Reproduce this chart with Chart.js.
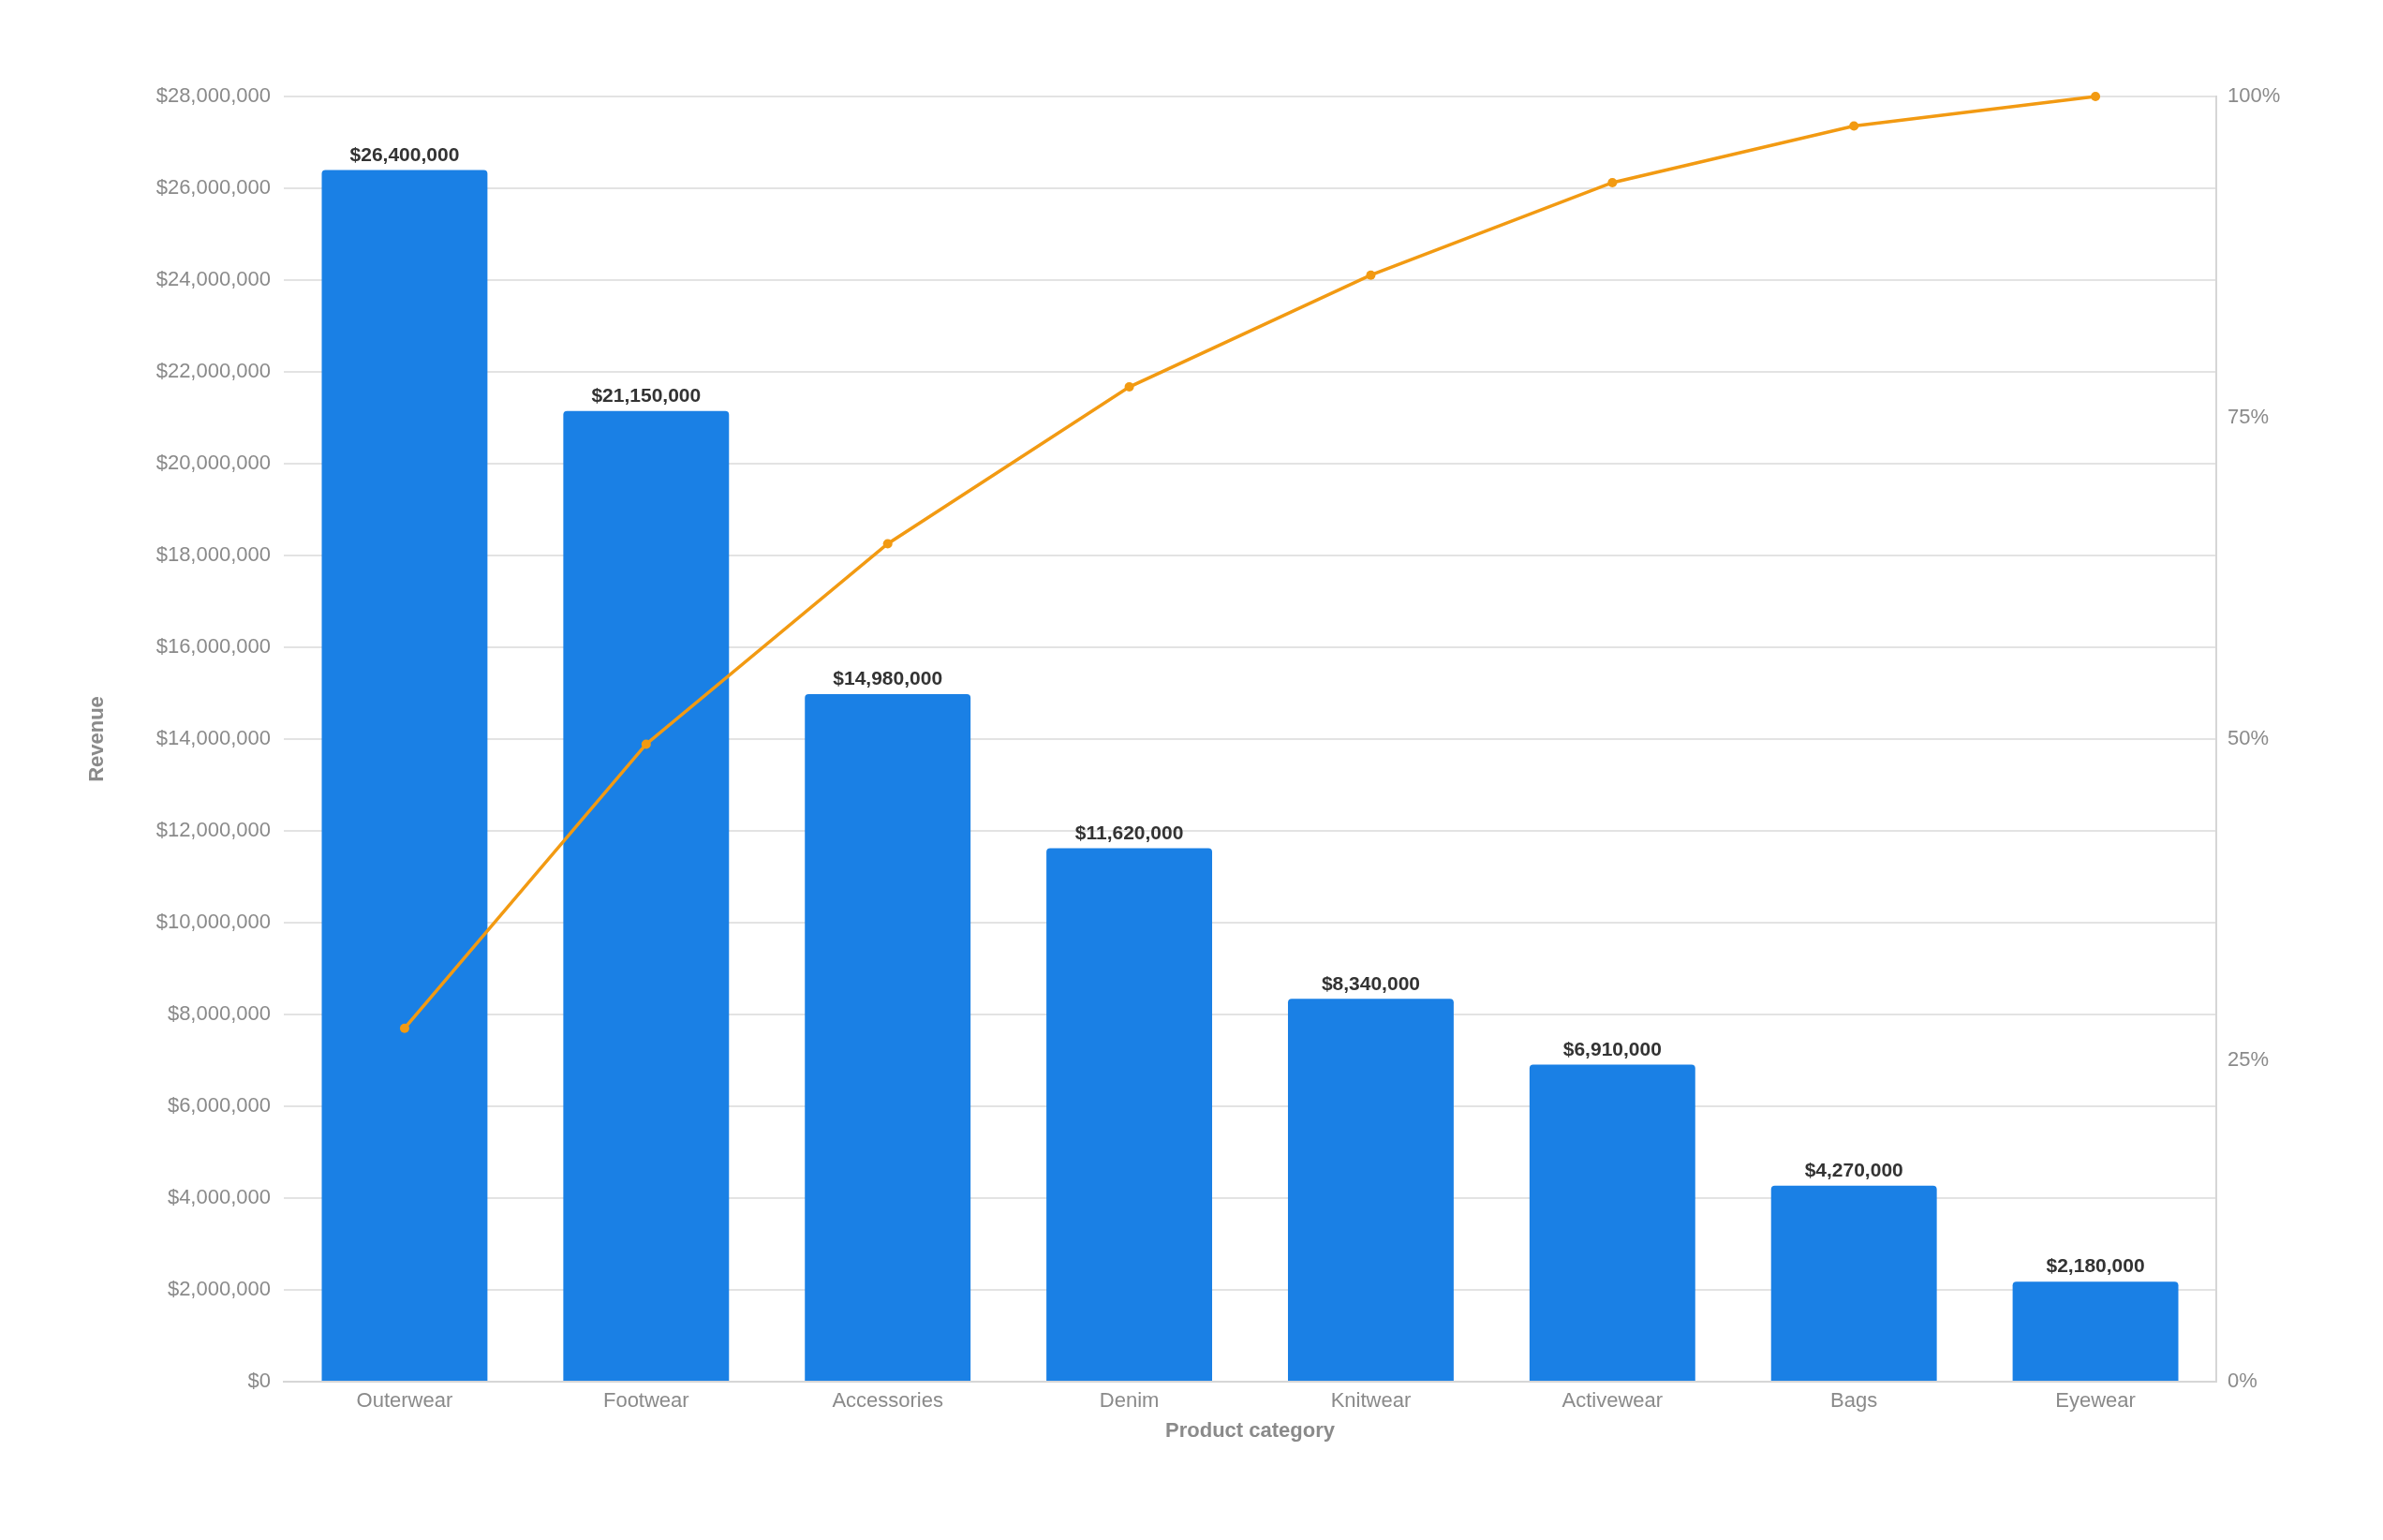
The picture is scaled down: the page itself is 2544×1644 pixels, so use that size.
<!DOCTYPE html>
<html>
<head>
<meta charset="utf-8">
<title>Revenue by product category</title>
<script src="https://cdn.jsdelivr.net/npm/chart.js@4.4.1/dist/chart.umd.min.js"></script>
<style>
    html, body { margin: 0; padding: 0; background: #ffffff; }
    #wrap { width: 2544px; height: 1644px; }
</style>
</head>
<body>
<div id="wrap"><canvas id="paretoChart" width="2544" height="1644"></canvas></div>
<script>
// Values
const categories = ['Outerwear', 'Footwear', 'Accessories', 'Denim', 'Knitwear', 'Activewear', 'Bags', 'Eyewear'];
const revenue = [26400000, 21150000, 14980000, 11620000, 8340000, 6910000, 4270000, 2180000];
const cumulativePct = [27.5, 49.6, 65.2, 77.4, 86.1, 93.3, 97.7, 100];
const revenueTicks = { min: 0, max: 28000000, step: 2000000 };
const pctTicks = { min: 0, max: 100, step: 25 };

const barColor = '#1a80e5';
const lineColor = '#f29a12';
const tickColor = '#8a8a8a';
const gridColor = '#e3e3e3';
const fontFamily = '"Liberation Sans", Arial, Helvetica, sans-serif';

function money(v) {
    return '$' + Number(v).toLocaleString('en-US');
}

// Draws the value above each bar (no datalabels plugin available offline)
const barLabels = {
    id: 'barLabels',
    afterDatasetsDraw(chart) {
        const ctx = chart.ctx;
        const meta = chart.getDatasetMeta(0);
        ctx.save();
        ctx.font = 'bold 21px ' + fontFamily;
        ctx.fillStyle = '#333333';
        ctx.textAlign = 'center';
        ctx.textBaseline = 'bottom';
        meta.data.forEach((bar, i) => {
            ctx.fillText(money(revenue[i]), bar.x, bar.y - 5);
        });
        ctx.restore();
    }
};

const ctx = document.getElementById('paretoChart').getContext('2d');
const chart = new Chart(ctx, {
    type: 'bar',
    data: {
        labels: categories,
        datasets: [
            {
                type: 'bar',
                label: 'Revenue',
                data: revenue,
                yAxisID: 'y',
                backgroundColor: barColor,
                borderRadius: 4,
                borderSkipped: 'bottom',
                categoryPercentage: 1.0,
                barPercentage: 0.686,
                order: 1
            },
            {
                type: 'line',
                label: 'Cumulative %',
                data: cumulativePct,
                yAxisID: 'y1',
                borderColor: lineColor,
                backgroundColor: lineColor,
                borderWidth: 3.5,
                pointRadius: 5,
                pointBackgroundColor: lineColor,
                pointBorderWidth: 0,
                tension: 0,
                fill: false,
                clip: false,
                order: 0
            }
        ]
    },
    options: {
        responsive: false,
        animation: false,
        devicePixelRatio: 1,
        layout: {
            padding: { left: 87, right: 78, top: 103, bottom: 99 }
        },
        plugins: {
            legend: { display: false },
            tooltip: { enabled: false }
        },
        scales: {
            x: {
                grid: { display: false, drawTicks: false },
                border: { display: true, color: '#d6d6d6', width: 2 },
                ticks: {
                    color: tickColor,
                    font: { family: fontFamily, size: 22 },
                    padding: 8,
                    maxRotation: 0
                },
                title: {
                    display: true,
                    text: 'Product category',
                    color: tickColor,
                    font: { family: fontFamily, size: 22, weight: 'bold' },
                    padding: { top: 4, bottom: 4 }
                },
                afterFit(scale) { scale.height = 70; }
            },
            y: {
                position: 'left',
                min: revenueTicks.min,
                max: revenueTicks.max,
                grid: { color: gridColor, lineWidth: 2, drawTicks: false },
                border: { display: false },
                ticks: {
                    stepSize: revenueTicks.step,
                    color: tickColor,
                    font: { family: fontFamily, size: 22 },
                    padding: 14,
                    callback: v => money(v)
                },
                title: {
                    display: true,
                    text: 'Revenue',
                    color: tickColor,
                    font: { family: fontFamily, size: 22, weight: 'bold' },
                    padding: { top: 4, bottom: 4 }
                },
                afterFit(scale) { scale.width = 216; }
            },
            y1: {
                position: 'right',
                min: pctTicks.min,
                max: pctTicks.max,
                grid: { display: false, drawTicks: false },
                border: { display: true, color: '#d6d6d6', width: 2 },
                ticks: {
                    stepSize: pctTicks.step,
                    color: tickColor,
                    font: { family: fontFamily, size: 22 },
                    padding: 12,
                    callback: v => v + '%'
                },
                afterFit(scale) { scale.width = 100; }
            }
        }
    },
    plugins: [barLabels]
});
</script>
</body>
</html>
